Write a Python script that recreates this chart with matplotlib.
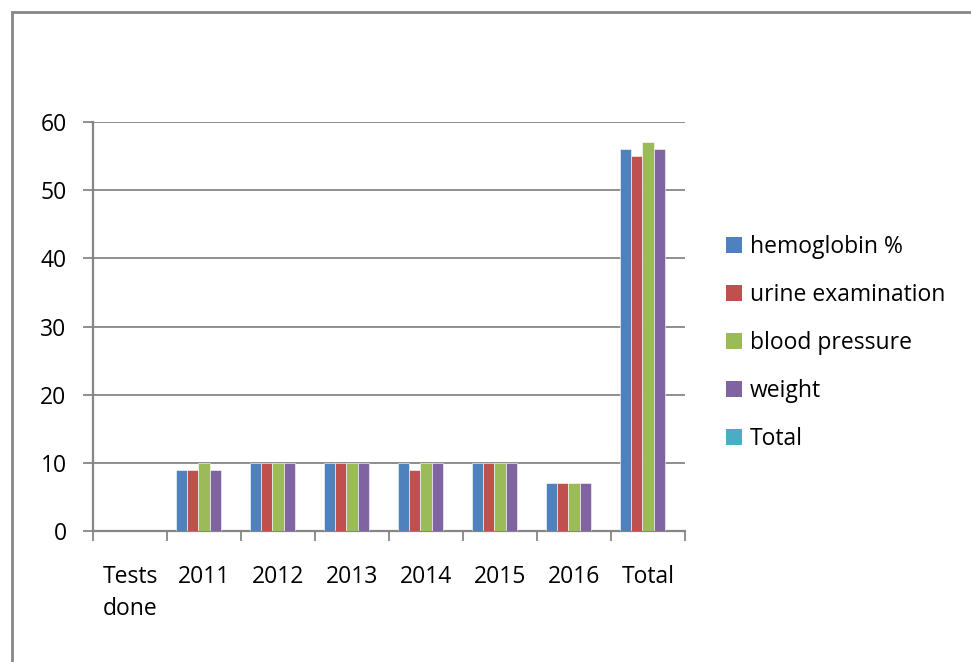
import matplotlib
matplotlib.use("Agg")
import matplotlib.pyplot as plt
from matplotlib.patches import Rectangle
import numpy as np

plt.rcParams['font.family'] = ['Open Sans', 'DejaVu Sans']

categories = ["Tests\ndone", "2011", "2012", "2013", "2014", "2015", "2016", "Total"]
series_names = ["hemoglobin %", "urine examination", "blood pressure", "weight", "Total"]
hemoglobin = [0, 9, 10, 10, 10, 10, 7, 56]
urine = [0, 9, 10, 10, 9, 10, 7, 55]
blood_pressure = [0, 10, 10, 10, 10, 10, 7, 57]
weight = [0, 9, 10, 10, 10, 10, 7, 56]
total = [0, 0, 0, 0, 0, 0, 0, 0]
colors = ["#4F81BD", "#C0504D", "#9BBB59", "#8064A2", "#4BACC6"]
y_ticks = [0, 10, 20, 30, 40, 50, 60]

W, H = 971, 662
FS = 16.5
fig = plt.figure(figsize=(W / 100, H / 100), dpi=100)

# outer chart frame (right and bottom edges run off the canvas)
fig.patches.append(Rectangle((12 / W, -0.1), 1.2, 1 - 12 / H + 0.1,
                             transform=fig.transFigure, fill=False,
                             edgecolor="#878787", linewidth=2))

ax = fig.add_axes([93 / W, 1 - 531 / H, (685 - 93) / W, (531 - 122) / H])

grid_col = "#868686"
all_series = [hemoglobin, urine, blood_pressure, weight, total]
n = len(all_series)
bw = 1 / (n + 1.5)
x = np.arange(len(categories))
for i, (vals, c) in enumerate(zip(all_series, colors)):
    ax.bar(x + (i - (n - 1) / 2) * bw, vals, width=bw, color=c,
           edgecolor="#ffffff", linewidth=0.4, zorder=3)

ax.set_xlim(-0.5, len(categories) - 0.5)
ax.set_ylim(0, 60)
ax.set_yticks(y_ticks)
ax.yaxis.grid(True, color=grid_col, linewidth=1.3, zorder=0)
ax.set_axisbelow(True)
for s in ["top", "right"]:
    ax.spines[s].set_visible(False)
for s in ["left", "bottom"]:
    ax.spines[s].set_color(grid_col)
    ax.spines[s].set_linewidth(1.6)
ax.tick_params(axis="y", length=7, width=1.3, color=grid_col, pad=12,
               labelsize=FS, labelcolor="black")

# category boundary ticks below the axis
ax.set_xticks(np.arange(-0.5, len(categories)), minor=True)
ax.tick_params(axis="x", which="minor", length=7, width=1.3, color=grid_col)
ax.set_xticks(x)
ax.set_xticklabels([])
ax.tick_params(axis="x", which="major", length=0)
for xi, lab in zip(x, categories):
    if "\n" in lab:
        ax.text(xi - 0.37, -0.082, lab, transform=ax.get_xaxis_transform(),
                ha="left", va="top", fontsize=FS, linespacing=1.45)
    else:
        ax.text(xi, -0.082, lab, transform=ax.get_xaxis_transform(),
                ha="center", va="top", fontsize=FS)

# legend
handles = [Rectangle((0, 0), 1, 1, facecolor=c, edgecolor="none") for c in colors]
fig.legend(handles, series_names, loc="upper left",
           bbox_to_anchor=(717 / W, 1 - 226 / H), frameon=False,
           fontsize=FS, handlelength=0.7, handleheight=0.7,
           handletextpad=0.35, labelspacing=1.05, borderaxespad=0)

fig.savefig("out.png", dpi=100)
